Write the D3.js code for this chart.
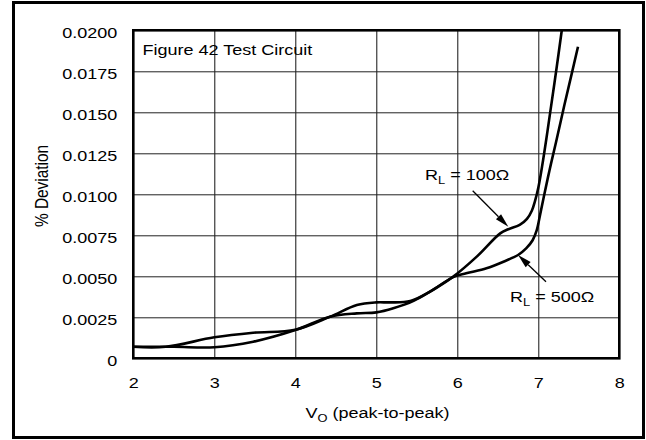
<!DOCTYPE html>
<html>
<head>
<meta charset="utf-8">
<script src="https://cdn.jsdelivr.net/npm/d3@7"></script>
<style>
  html, body { margin: 0; padding: 0; background: #fff; }
  svg { display: block; }
  text { font-family: "Liberation Sans", Arial, Helvetica, sans-serif; fill: #000; }
</style>
</head>
<body>
<svg id="chart" width="646" height="440"></svg>
<script>
// ---- data ----
const xTicks = [2, 3, 4, 5, 6, 7, 8];
const yTicks = [0, 0.0025, 0.005, 0.0075, 0.01, 0.0125, 0.015, 0.0175, 0.02];
const yTickLabels = ["0", "0.0025", "0.0050", "0.0075", "0.0100", "0.0125", "0.0150", "0.0175", "0.0200"];

const rl100V   = [2.0, 2.5, 3.0, 3.48, 4.0, 4.43, 4.76, 5.0, 5.21, 5.46, 5.66, 5.95, 6.24, 6.53, 6.63, 6.77, 6.86, 6.92, 6.96, 7.0, 7.05, 7.1, 7.15, 7.22, 7.29];
const rl100Dev = [0.0007, 0.0007, 0.00067, 0.00101, 0.00172, 0.00254, 0.00274, 0.0028, 0.00305, 0.0035, 0.00405, 0.00498, 0.0062, 0.00762, 0.00787, 0.00813, 0.0085, 0.0090, 0.0096, 0.0104, 0.0118, 0.0134, 0.0151, 0.0175, 0.0200];

const rl500V   = [2.0, 2.4, 3.0, 3.48, 4.0, 4.43, 4.76, 5.0, 5.17, 5.42, 5.66, 5.95, 6.11, 6.36, 6.57, 6.75, 6.85, 6.93, 6.98, 7.02, 7.07, 7.14, 7.22, 7.32, 7.41, 7.49];
const rl500Dev = [0.0007, 0.0007, 0.00128, 0.00156, 0.00174, 0.00254, 0.00325, 0.00341, 0.00341, 0.00349, 0.00406, 0.00495, 0.00518, 0.00549, 0.00589, 0.0063, 0.0067, 0.0072, 0.0078, 0.0087, 0.0099, 0.0115, 0.0132, 0.0154, 0.0173, 0.0190];

const annotations = [
  { sub: "L", rest: " = 100\u03A9", from: [6.19, 0.01022], to: [6.63, 0.00802] },
  { sub: "L", rest: " = 500\u03A9", from: [7.095, 0.00467], to: [6.75, 0.0063] }
];

// ---- layout ----
const SX = 1.17;      // horizontal text stretch seen in the reference
const FS = 15.4;
const plot = { left: 133.3, right: 619.3, top: 30.3, bottom: 358.3 };

const svg = d3.select("#chart");

const x = d3.scaleLinear().domain([2, 8]).range([plot.left, plot.right]);
const y = d3.scaleLinear().domain([0, 0.02]).range([plot.bottom, plot.top]);

// outer frame
svg.append("rect")
  .attr("x", 13.5).attr("y", 2.5).attr("width", 630).attr("height", 435)
  .attr("fill", "none").attr("stroke", "#000").attr("stroke-width", 3);

// grid lines
const gridX = svg.append("g")
  .attr("transform", `translate(0,${plot.bottom})`)
  .call(d3.axisBottom(x).tickValues(xTicks.slice(1, -1)).tickSize(-(plot.bottom - plot.top)).tickFormat(""));
gridX.select(".domain").remove();
gridX.selectAll("line").attr("stroke", "#111").attr("stroke-width", 1);

const gridY = svg.append("g")
  .attr("transform", `translate(${plot.left},0)`)
  .call(d3.axisLeft(y).tickValues(yTicks.slice(1, -1)).tickSize(-(plot.right - plot.left)).tickFormat(""));
gridY.select(".domain").remove();
gridY.selectAll("line").attr("stroke", "#222").attr("stroke-width", 1);

// tick labels via axes
const ax = svg.append("g")
  .attr("transform", `translate(0,${plot.bottom})`)
  .call(d3.axisBottom(x).tickValues(xTicks).tickSize(0).tickFormat(d3.format("d")));
ax.select(".domain").remove();
ax.selectAll("text")
  .attr("x", 0).attr("y", 0).attr("dy", null)
  .attr("transform", `translate(0,30) scale(${SX},1)`)
  .attr("font-size", FS).attr("font-family", null).attr("fill", "#000");

const ay = svg.append("g")
  .attr("transform", `translate(${plot.left},0)`)
  .call(d3.axisLeft(y).tickValues(yTicks).tickSize(0).tickFormat((d, i) => yTickLabels[i]));
ay.select(".domain").remove();
ay.selectAll("text")
  .attr("x", 0).attr("y", 0).attr("dy", null)
  .attr("text-anchor", "end")
  .attr("transform", `translate(-16,7) scale(${SX},1)`)
  .attr("font-size", FS).attr("font-family", null).attr("fill", "#000");

// curves
svg.append("clipPath").attr("id", "clip")
  .append("rect").attr("x", plot.left).attr("y", plot.top)
  .attr("width", plot.right - plot.left).attr("height", plot.bottom - plot.top);

const line = d3.line().x(d => x(d[0])).y(d => y(d[1])).curve(d3.curveCatmullRom.alpha(0.5));
const s100 = rl100V.map((v, i) => [v, rl100Dev[i]]);
const s500 = rl500V.map((v, i) => [v, rl500Dev[i]]);

const curves = svg.append("g").attr("clip-path", "url(#clip)");
[s100, s500].forEach(s => {
  curves.append("path").datum(s)
    .attr("d", line)
    .attr("fill", "none").attr("stroke", "#000").attr("stroke-width", 2.6)
    .attr("stroke-linejoin", "round");
});

// plot frame
svg.append("rect")
  .attr("x", plot.left).attr("y", plot.top)
  .attr("width", plot.right - plot.left).attr("height", plot.bottom - plot.top)
  .attr("fill", "none").attr("stroke", "#000").attr("stroke-width", 2.6);

// text helper
function stretchedText(px, py, anchor, rotate) {
  return svg.append("text")
    .attr("transform", `translate(${px},${py}) scale(${SX},1)` + (rotate ? ` rotate(${rotate})` : ""))
    .attr("text-anchor", anchor)
    .attr("font-size", FS);
}

// in-plot title
stretchedText(142.5, 55, "start").text("Figure 42 Test Circuit");

// axis titles
stretchedText(48, 186, "middle", -90).text("% Deviation");
const xt = stretchedText(377.5, 418, "middle");
xt.append("tspan").text("V");
xt.append("tspan").attr("font-size", 11).attr("dy", 4).text("O");
xt.append("tspan").attr("dy", -4).text(" (peak-to-peak)");

// annotations
const labelPos = [[425, 180], [510, 301.7]];
annotations.forEach((a, i) => {
  const t = stretchedText(labelPos[i][0], labelPos[i][1], "start");
  t.append("tspan").text("R");
  t.append("tspan").attr("font-size", 11).attr("dy", 4).text(a.sub);
  t.append("tspan").attr("dy", -4).text(a.rest);

  const x1 = x(a.from[0]), y1 = y(a.from[1]);
  const x2 = x(a.to[0]), y2 = y(a.to[1]);
  const ang = Math.atan2(y2 - y1, x2 - x1);
  const L = 14, Wd = 3.6;
  const bx = x2 - L * Math.cos(ang), by = y2 - L * Math.sin(ang);
  svg.append("line")
    .attr("x1", x1).attr("y1", y1).attr("x2", bx).attr("y2", by)
    .attr("stroke", "#000").attr("stroke-width", 1.3);
  const px = -Math.sin(ang), py = Math.cos(ang);
  svg.append("path")
    .attr("d", `M${x2},${y2}L${bx + px * Wd},${by + py * Wd}L${bx - px * Wd},${by - py * Wd}Z`)
    .attr("fill", "#000");
});
</script>
</body>
</html>
